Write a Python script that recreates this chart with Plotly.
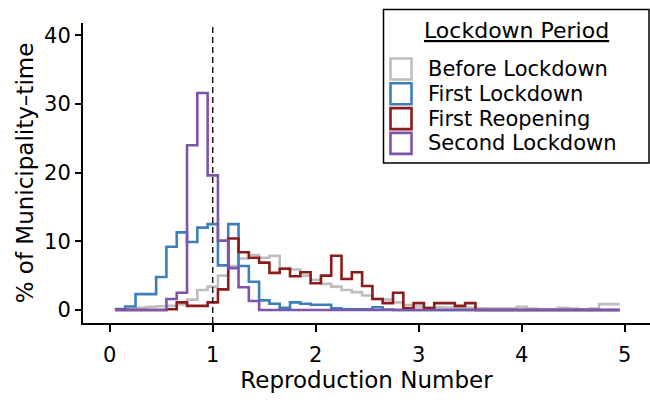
import plotly.graph_objects as go

# ---- data (bin centres, % of municipality-time per bin) ----
bin_centers = [0.1, 0.2, 0.3, 0.4, 0.5, 0.6, 0.7, 0.8, 0.9, 1.0,
               1.1, 1.2, 1.3, 1.4, 1.5, 1.6, 1.7, 1.8, 1.9, 2.0,
               2.1, 2.2, 2.3, 2.4, 2.5, 2.6, 2.7, 2.8, 2.9, 3.0,
               3.1, 3.2, 3.3, 3.4, 3.5, 3.6, 3.7, 3.8, 3.9, 4.0,
               4.1, 4.2, 4.3, 4.4, 4.5, 4.6, 4.7, 4.8, 4.9]
bin_width = 0.1

before_lockdown = [0.05, 0.1, 0.3, 0.45, 0.55, 0.6, 0.8, 1.5, 2.9, 3.4,
                   5.0, 6.4, 7.5, 8.0, 7.6, 7.9, 6.1, 5.9, 5.0, 4.4,
                   3.8, 3.4, 2.9, 2.6, 2.1, 1.6, 1.5, 1.1, 0.7, 0.5,
                   0.4, 0.4, 0.35, 0.3, 0.3, 0.25, 0.2, 0.2, 0.2, 0.45,
                   0.2, 0.15, 0.15, 0.3, 0.2, 0.1, 0.2, 0.85, 0.85]

first_lockdown = [0.15, 0.5, 2.3, 2.3, 4.8, 9.2, 11.3, 9.9, 12.0, 12.5,
                  6.5, 12.5, 6.4, 4.1, 1.4, 0.9, 0.3, 1.1, 0.9, 0.75,
                  0.75, 0.25, 0.1, 0.1, 0.1, 0.4, 0.05, 0, 0, 0,
                  0, 0, 0, 0, 0, 0, 0, 0, 0, 0,
                  0, 0, 0, 0, 0, 0, 0, 0, 0]

first_reopening = [0, 0, 0, 0, 0, 0.1, 1.1, 0.6, 0.6, 1.1,
                   3.0, 10.4, 8.4, 7.6, 6.9, 5.4, 6.0, 4.9, 5.5, 3.9,
                   5.0, 7.9, 4.5, 5.5, 3.5, 1.6, 1.0, 2.5, 0.25, 1.0,
                   0.25, 1.0, 1.0, 0.6, 1.0, 0, 0, 0, 0, 0,
                   0, 0, 0, 0, 0, 0, 0, 0, 0]

second_lockdown = [0, 0, 0, 0, 0, 1.6, 2.5, 24.0, 31.6, 19.6,
                   10.1, 6.1, 3.3, 1.3, 0, 0, 0, 0, 0, 0,
                   0, 0, 0, 0, 0, 0, 0, 0, 0, 0,
                   0, 0, 0, 0, 0, 0, 0, 0, 0, 0,
                   0, 0, 0, 0, 0, 0, 0, 0, 0]

series_names = ["Before Lockdown", "First Lockdown", "First Reopening", "Second Lockdown"]
series_values = [before_lockdown, first_lockdown, first_reopening, second_lockdown]
series_colors = ["#BEBEBE", "#3D7FB9", "#8B1C1C", "#7D55AA"]

x_ticks = [0, 1, 2, 3, 4, 5]
y_ticks = [0, 10, 20, 30, 40]
threshold = 1

FONT = "DejaVu Sans"
W, H = 650, 406
ML, MR, MT, MB = 83, 0, 23, 83

fig = go.Figure()
for name, vals, col in zip(series_names, series_values, series_colors):
    xs = [c - bin_width / 2 for c in bin_centers] + [bin_centers[-1] + bin_width / 2]
    ys = list(vals) + [vals[-1]]
    fig.add_trace(go.Scatter(x=xs, y=ys, mode="lines", name=name,
                             line=dict(color=col, width=2.6, shape="hv"),
                             showlegend=False, hoverinfo="skip"))

# dashed reference line at R = 1
fig.add_shape(type="line", xref="x", yref="paper", x0=threshold, x1=threshold,
              y0=0, y1=1, line=dict(color="black", width=1.3, dash="6px,4px"))

# ---- manual legend (pixel positions -> paper coords) ----
pw, ph = W - ML - MR, H - MT - MB
def px(x):
    return (x - ML) / pw
def py(y):
    return (H - MB - y) / ph

fig.add_shape(type="rect", xref="paper", yref="paper",
              x0=px(383.5), x1=px(649), y0=py(163), y1=py(9.5),
              line=dict(color="black", width=1.5), fillcolor="white", layer="above")
fig.add_annotation(xref="paper", yref="paper", x=px(516.5), y=py(31),
                   text="<u>Lockdown Period</u>", showarrow=False,
                   xanchor="center", yanchor="middle", borderpad=0,
                   font=dict(family=FONT, size=22, color="black"))
row_y = [69.0, 93.8, 118.6, 143.4]
for name, col, yc in zip(series_names, series_colors, row_y):
    fig.add_shape(type="rect", xref="paper", yref="paper",
                  x0=px(390.5), x1=px(411.5), y0=py(yc + 10.5), y1=py(yc - 10.5),
                  line=dict(color=col, width=2.6), fillcolor="white", layer="above")
    fig.add_annotation(xref="paper", yref="paper", x=px(427), y=py(yc),
                       text=name, showarrow=False, xanchor="left", yanchor="middle",
                       borderpad=0,
                       font=dict(family=FONT, size=21, color="black"))

fig.update_layout(
    width=W, height=H,
    margin=dict(l=ML, r=MR, t=MT, b=MB, pad=0),
    paper_bgcolor="white", plot_bgcolor="white",
    font=dict(family=FONT, color="black"),
    showlegend=False,
)
fig.update_xaxes(range=[-0.26, 5.245], tickvals=x_ticks, ticktext=[str(v) for v in x_ticks],
                 showgrid=False, zeroline=False, showline=True, linecolor="black", linewidth=2,
                 ticks="outside", ticklen=7, tickwidth=2, tickcolor="black",
                 tickfont=dict(family=FONT, size=21, color="black"),
                 ticklabelstandoff=5,
                 title=dict(text="Reproduction Number", font=dict(family=FONT, size=23, color="black"),
                            standoff=2))
fig.update_yaxes(range=[-1.9, 41.8], tickvals=y_ticks, ticktext=[str(v) for v in y_ticks],
                 showgrid=False, zeroline=False, showline=True, linecolor="black", linewidth=2,
                 ticks="outside", ticklen=6, tickwidth=2, tickcolor="black",
                 tickfont=dict(family=FONT, size=21, color="black"),
                 ticklabelstandoff=0,
                 title=dict(text="% of Municipality\u2013time", font=dict(family=FONT, size=23, color="black"),
                            standoff=4))

fig.write_html("out.html")
